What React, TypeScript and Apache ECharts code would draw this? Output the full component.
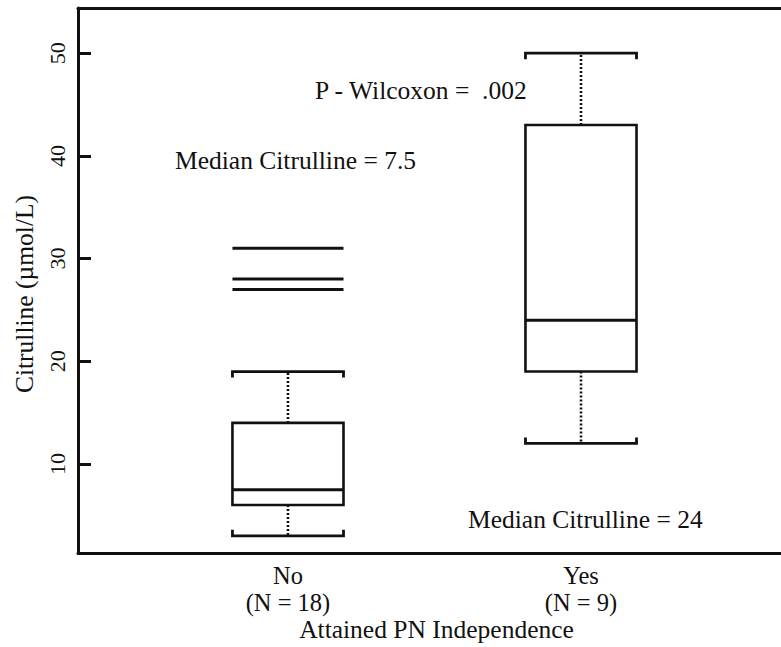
import React, { useEffect, useRef } from "react";
import * as echarts from "echarts";

// ---- data ----
const categories = ["No\n(N = 18)", "Yes\n(N = 9)"];
const categoryPositions = [1, 2];
const lowerWhisker = [3, 12];
const q1 = [6, 19];
const median = [7.5, 24];
const q3 = [14, 43];
const upperWhisker = [19, 50];
// outliers drawn as horizontal bars: [x, value]
const outlierX = [1, 1, 1];
const outlierValues = [31, 28, 27];
const yTicks = [10, 20, 30, 40, 50];

const yAxisTitle = "Citrulline (\u00b5mol/L)";
const xAxisTitle = "Attained PN Independence";
const pText = "P - Wilcoxon =  .002";
const medianNoText = "Median Citrulline = 7.5";
const medianYesText = "Median Citrulline = 24";

const FONT = "Liberation Serif";
const INK = "#111";
const BOX_W = 0.379;

function txt(text: string, x: number, y: number, align: string, rotation = 0, size = 25.5) {
  return {
    type: "text",
    x,
    y,
    rotation,
    style: {
      text,
      fontFamily: FONT,
      fontSize: size,
      fill: INK,
      align,
      verticalAlign: "middle",
    },
  };
}

export default function App() {
  const ref = useRef<HTMLDivElement>(null);
  useEffect(() => {
    if (!ref.current) return;
    const chart = echarts.init(ref.current, undefined, { renderer: "svg" });

    const boxData = categoryPositions.map((x, i) => [
      x,
      lowerWhisker[i],
      q1[i],
      median[i],
      q3[i],
      upperWhisker[i],
    ]);
    const outlierData = outlierX.map((x, i) => [x, outlierValues[i]]);

    const option: any = {
      animation: false,
      backgroundColor: "#fff",
      grid: { left: 78, right: 0, top: 8, bottom: 93.7, containLabel: false },
      xAxis: [
        {
          type: "value",
          min: 0.2834,
          max: 2.6826,
          position: "bottom",
          splitLine: { show: false },
          axisLine: { show: true, onZero: false, lineStyle: { color: INK, width: 3 } },
          axisTick: { show: false },
          axisLabel: {
            customValues: categoryPositions,
            formatter: (v: number) => categories[Math.round(v) - 1] ?? "",
            fontFamily: FONT,
            fontSize: 24.5,
            lineHeight: 27,
            color: INK,
            margin: 9,
          },
        },
        {
          type: "value",
          min: 0.2834,
          max: 2.6826,
          position: "top",
          splitLine: { show: false },
          axisLine: { show: true, onZero: false, lineStyle: { color: INK, width: 3 } },
          axisTick: { show: false },
          axisLabel: { show: false },
        },
      ],
      yAxis: {
        type: "value",
        min: 1.3,
        max: 54.4,
        splitLine: { show: false },
        axisLine: { show: true, onZero: false, lineStyle: { color: INK, width: 3 } },
        axisTick: {
          show: true,
          inside: true,
          length: 13,
          customValues: yTicks,
          lineStyle: { color: INK, width: 3 },
        },
        axisLabel: {
          customValues: yTicks,
          rotate: 90,
          fontFamily: FONT,
          fontSize: 22,
          color: INK,
          margin: 10,
        },
      },
      graphic: [
        txt(yAxisTitle, 24, 294, "center", Math.PI / 2),
        txt(xAxisTitle, 436.5, 629.5, "center"),
        txt(pText, 315, 90.4, "left"),
        txt(medianNoText, 175, 160, "left"),
        txt(medianYesText, 468, 519.7, "left"),
      ],
      series: [
        {
          type: "custom",
          data: boxData,
          clip: false,
          renderItem: (params: any, api: any) => {
            const x = api.value(0);
            const lo = api.coord([x, api.value(1)]);
            const b1 = api.coord([x, api.value(2)]);
            const md = api.coord([x, api.value(3)]);
            const b3 = api.coord([x, api.value(4)]);
            const hi = api.coord([x, api.value(5)]);
            const cx = lo[0];
            const hw = api.size([BOX_W, 0])[0] / 2;
            const stroke = { stroke: INK, fill: "none" };
            const hook = 6;
            return {
              type: "group",
              children: [
                {
                  type: "rect",
                  shape: { x: cx - hw, y: b3[1], width: 2 * hw, height: b1[1] - b3[1] },
                  style: { ...stroke, lineWidth: 2.6 },
                },
                {
                  type: "line",
                  shape: { x1: cx - hw, y1: md[1], x2: cx + hw, y2: md[1] },
                  style: { ...stroke, lineWidth: 3 },
                },
                {
                  type: "line",
                  shape: { x1: cx, y1: b3[1], x2: cx, y2: hi[1] },
                  style: { ...stroke, lineWidth: 2.6, lineDash: [2, 2] },
                },
                {
                  type: "line",
                  shape: { x1: cx, y1: b1[1], x2: cx, y2: lo[1] },
                  style: { ...stroke, lineWidth: 2.6, lineDash: [2, 2] },
                },
                {
                  type: "polyline",
                  shape: {
                    points: [
                      [cx - hw, hi[1] + hook],
                      [cx - hw, hi[1]],
                      [cx + hw, hi[1]],
                      [cx + hw, hi[1] + hook],
                    ],
                  },
                  style: { ...stroke, lineWidth: 2.8 },
                },
                {
                  type: "polyline",
                  shape: {
                    points: [
                      [cx - hw, lo[1] - hook],
                      [cx - hw, lo[1]],
                      [cx + hw, lo[1]],
                      [cx + hw, lo[1] - hook],
                    ],
                  },
                  style: { ...stroke, lineWidth: 2.8 },
                },
              ],
            };
          },
        },
        {
          type: "custom",
          data: outlierData,
          clip: false,
          renderItem: (params: any, api: any) => {
            const p = api.coord([api.value(0), api.value(1)]);
            const hw = api.size([BOX_W, 0])[0] / 2;
            return {
              type: "line",
              shape: { x1: p[0] - hw, y1: p[1], x2: p[0] + hw, y2: p[1] },
              style: { stroke: INK, lineWidth: 3 },
            };
          },
        },
      ],
    };

    chart.setOption(option);
    return () => chart.dispose();
  }, []);

  return (
    <div
      ref={ref}
      style={{ position: "fixed", left: 0, top: 0, width: 781, height: 647, background: "#fff" }}
    />
  );
}
